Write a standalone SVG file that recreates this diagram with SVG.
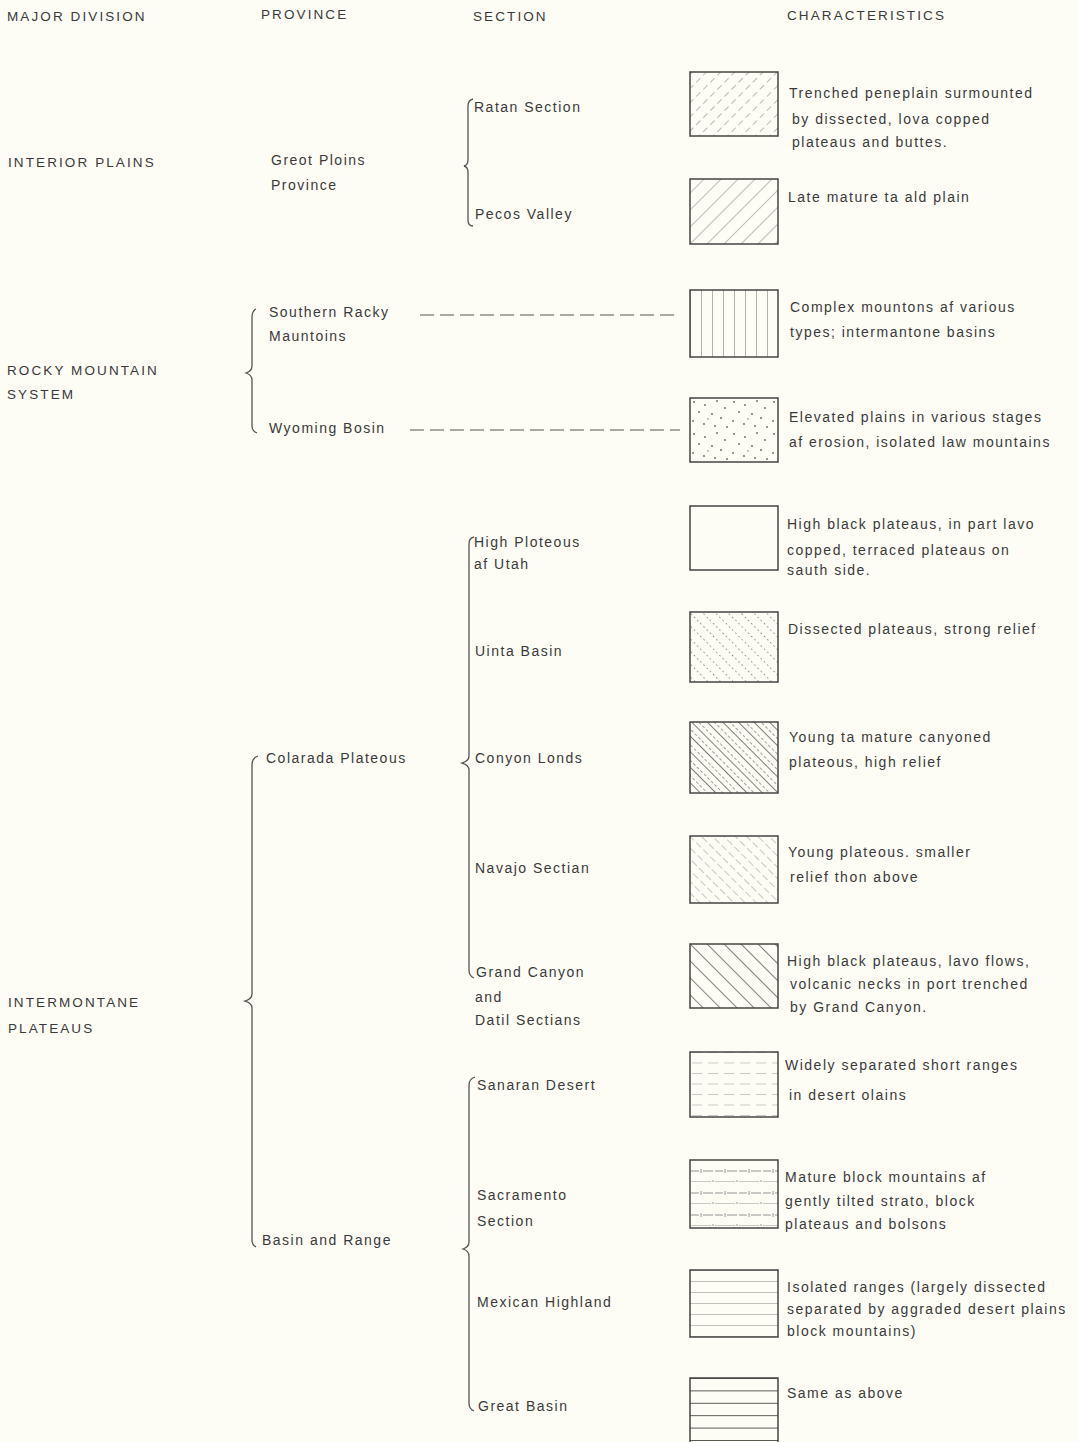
<svg xmlns="http://www.w3.org/2000/svg" width="1078" height="1442" viewBox="0 0 1078 1442">
<style>
text{font-family:"Liberation Sans",Arial,sans-serif;font-size:14px;fill:#3a3a3a;letter-spacing:1.5px}
.h{font-size:13.5px;letter-spacing:2.1px}
.box{fill:none;stroke:#444;stroke-width:1.5}
.br{fill:none;stroke:#555;stroke-width:1.3}
.dl{stroke:#555;stroke-width:1.2;stroke-dasharray:14 6;fill:none}
</style>
<defs>
<pattern id="p1" width="10" height="10" patternUnits="userSpaceOnUse" patternTransform="rotate(45)"><line x1="0" y1="0" x2="0" y2="10" stroke="#777" stroke-width="1" stroke-dasharray="6 4"/></pattern>
<pattern id="p2" width="12" height="12" patternUnits="userSpaceOnUse" patternTransform="rotate(45)"><line x1="0" y1="0" x2="0" y2="12" stroke="#777" stroke-width="0.9"/></pattern>
<pattern id="p3" width="11" height="10" patternUnits="userSpaceOnUse" x="690"><line x1="0" y1="0" x2="0" y2="10" stroke="#666" stroke-width="1"/></pattern>
<pattern id="p4" width="40" height="32" patternUnits="userSpaceOnUse" x="690" y="398"><g fill="#666"><circle cx="4" cy="4" r="0.9"/><circle cx="15" cy="7" r="0.9"/><circle cx="27" cy="3" r="0.9"/><circle cx="35" cy="10" r="0.9"/><circle cx="9" cy="14" r="0.9"/><circle cx="22" cy="16" r="0.9"/><circle cx="31" cy="20" r="0.9"/><circle cx="3" cy="23" r="0.9"/><circle cx="14" cy="26" r="0.9"/><circle cx="25" cy="28" r="0.9"/><circle cx="37" cy="29" r="0.9"/><circle cx="18" cy="21" r="0.7"/></g></pattern>
<pattern id="p6" width="9" height="9" patternUnits="userSpaceOnUse" patternTransform="rotate(-45)"><line x1="0" y1="0" x2="0" y2="9" stroke="#555" stroke-width="1.6" stroke-dasharray="1.3 3.2"/></pattern>
<pattern id="p7" width="11" height="10" patternUnits="userSpaceOnUse" patternTransform="rotate(-45)"><line x1="0" y1="0" x2="0" y2="10" stroke="#444" stroke-width="1.4"/><line x1="5.5" y1="0" x2="5.5" y2="10" stroke="#888" stroke-width="0.8" stroke-dasharray="3 2"/></pattern>
<pattern id="p8" width="8" height="10" patternUnits="userSpaceOnUse" patternTransform="rotate(-45)"><line x1="0" y1="0" x2="0" y2="10" stroke="#888" stroke-width="0.9" stroke-dasharray="5 3"/></pattern>
<pattern id="p9" width="12" height="10" patternUnits="userSpaceOnUse" patternTransform="rotate(-45)"><line x1="0" y1="0" x2="0" y2="10" stroke="#444" stroke-width="1.3"/></pattern>
<pattern id="p10" width="16" height="10.5" patternUnits="userSpaceOnUse" x="690" y="1052"><line x1="2" y1="0" x2="12" y2="0" stroke="#888" stroke-width="0.9"/></pattern>
<pattern id="p11" width="24" height="22" patternUnits="userSpaceOnUse" x="690" y="1160"><g stroke="#777" stroke-width="0.8"><line x1="1" y1="11" x2="9" y2="11"/><line x1="13" y1="11" x2="23" y2="11"/><line x1="11" y1="9" x2="11" y2="13"/><line x1="1" y1="22" x2="21" y2="22"/><line x1="23" y1="20" x2="23" y2="24"/></g></pattern>
<pattern id="p12" width="10" height="11" patternUnits="userSpaceOnUse" x="690" y="1270"><line x1="0" y1="0" x2="10" y2="0" stroke="#777" stroke-width="0.9"/></pattern>
<pattern id="p13" width="10" height="12.4" patternUnits="userSpaceOnUse" x="690" y="1378"><line x1="0" y1="0" x2="10" y2="0" stroke="#333" stroke-width="1.6"/></pattern>
</defs>
<rect width="1078" height="1442" fill="#fdfdf6"/>
<g id="headers">
<text class="h" x="7" y="21">MAJOR DIVISION</text>
<text class="h" x="261" y="19">PROVINCE</text>
<text class="h" x="473" y="21">SECTION</text>
<text class="h" x="787" y="20">CHARACTERISTICS</text>
</g>
<g id="divisions">
<text class="h" x="8" y="167">INTERIOR PLAINS</text>
<text class="h" x="7" y="375">ROCKY MOUNTAIN</text>
<text class="h" x="7" y="399">SYSTEM</text>
<text class="h" x="8" y="1007">INTERMONTANE</text>
<text class="h" x="8" y="1033">PLATEAUS</text>
</g>
<g id="provinces">
<text x="271" y="165">Greot Ploins</text>
<text x="271" y="190">Province</text>
<text x="269" y="317">Southern Racky</text>
<text x="269" y="341">Mauntoins</text>
<text x="269" y="433">Wyoming Bosin</text>
<text x="266" y="763">Colarada Plateous</text>
<text x="262" y="1245">Basin and Range</text>
</g>
<g id="sections">
<text x="474" y="112">Ratan Section</text>
<text x="475" y="219">Pecos Valley</text>
<text x="474" y="547">High Ploteous</text>
<text x="474" y="569">af Utah</text>
<text x="475" y="656">Uinta Basin</text>
<text x="475" y="763">Conyon Londs</text>
<text x="475" y="873">Navajo Sectian</text>
<text x="476" y="977">Grand Canyon</text>
<text x="475" y="1002">and</text>
<text x="475" y="1025">Datil Sectians</text>
<text x="477" y="1090">Sanaran Desert</text>
<text x="477" y="1200">Sacramento</text>
<text x="477" y="1226">Section</text>
<text x="477" y="1307">Mexican Highland</text>
<text x="478" y="1411">Great Basin</text>
</g>
<g id="connectors">
<path class="br" d="M473,99 Q468,100 468,106 L468,160 Q468,165 464,166 Q468,167 468,172 L468,220 Q468,226 473,226"/>
<path class="br" d="M256,309 Q252,311 252,317 L252,366 Q252,371 246,373 Q252,375 252,380 L252,426 Q252,431 257,433"/>
<path class="br" d="M474,537 Q469,538 469,544 L469,756 Q469,761 462,763 Q469,765 469,770 L469,970 Q469,976 474,978"/>
<path class="br" d="M258,756 Q252,758 252,765 L252,994 Q252,999 245,1001 Q252,1003 252,1008 L252,1240 Q252,1245 256,1247"/>
<path class="br" d="M475,1077 Q469,1079 469,1085 L469,1242 Q469,1247 463,1249 Q469,1251 469,1256 L469,1403 Q469,1409 474,1411"/>
<line class="dl" x1="420" y1="315" x2="680" y2="315"/>
<line class="dl" x1="410" y1="430" x2="680" y2="430"/>
</g>
<g id="c1"><rect x="690" y="72" width="88" height="64" fill="url(#p1)"/><rect class="box" x="690" y="72" width="88" height="64"/>
<text x="789" y="98">Trenched peneplain surmounted</text><text x="792" y="124">by dissected, lova copped</text><text x="792" y="147">plateaus and buttes.</text></g>
<g id="c2"><rect x="690" y="179" width="88" height="65" fill="url(#p2)"/><rect class="box" x="690" y="179" width="88" height="65"/>
<text x="788" y="202">Late mature ta ald plain</text></g>
<g id="c3"><rect x="690" y="290" width="88" height="67" fill="url(#p3)"/><rect class="box" x="690" y="290" width="88" height="67"/>
<text x="790" y="312">Complex mountons af various</text><text x="790" y="337">types; intermantone basins</text></g>
<g id="c4"><rect x="690" y="398" width="88" height="64" fill="url(#p4)"/><rect class="box" x="690" y="398" width="88" height="64"/>
<text x="789" y="422">Elevated plains in various stages</text><text x="789" y="447">af erosion, isolated law mountains</text></g>
<g id="c5"><rect class="box" x="690" y="506" width="88" height="64"/>
<text x="787" y="529">High black plateaus, in part lavo</text><text x="787" y="555">copped, terraced plateaus on</text><text x="787" y="575">sauth side.</text></g>
<g id="c6"><rect x="690" y="612" width="88" height="70" fill="url(#p6)"/><rect class="box" x="690" y="612" width="88" height="70"/>
<text x="788" y="634">Dissected plateaus, strong relief</text></g>
<g id="c7"><rect x="690" y="722" width="88" height="71" fill="url(#p7)"/><rect class="box" x="690" y="722" width="88" height="71"/>
<text x="789" y="742">Young ta mature canyoned</text><text x="789" y="767">plateous, high relief</text></g>
<g id="c8"><rect x="690" y="836" width="88" height="67" fill="url(#p8)"/><rect class="box" x="690" y="836" width="88" height="67"/>
<text x="788" y="857">Young plateous. smaller</text><text x="790" y="882">relief thon above</text></g>
<g id="c9"><rect x="690" y="944" width="88" height="64" fill="url(#p9)"/><rect class="box" x="690" y="944" width="88" height="64"/>
<text x="787" y="966">High black plateaus, lavo flows,</text><text x="790" y="989">volcanic necks in port trenched</text><text x="790" y="1012">by Grand Canyon.</text></g>
<g id="c10"><rect x="690" y="1052" width="88" height="65" fill="url(#p10)"/><rect class="box" x="690" y="1052" width="88" height="65"/>
<text x="785" y="1070">Widely separated short ranges</text><text x="789" y="1100">in desert olains</text></g>
<g id="c11"><rect x="690" y="1160" width="88" height="68" fill="url(#p11)"/><rect class="box" x="690" y="1160" width="88" height="68"/>
<text x="785" y="1182">Mature block mountains af</text><text x="785" y="1206">gently tilted strato, block</text><text x="785" y="1229">plateaus and bolsons</text></g>
<g id="c12"><rect x="690" y="1270" width="88" height="67" fill="url(#p12)"/><rect class="box" x="690" y="1270" width="88" height="67"/>
<text x="787" y="1292">Isolated ranges (largely dissected</text><text x="787" y="1314">separated by aggraded desert plains</text><text x="787" y="1336">block mountains)</text></g>
<g id="c13"><rect x="690" y="1378" width="88" height="70" fill="url(#p13)"/><rect class="box" x="690" y="1378" width="88" height="70"/>
<text x="787" y="1398">Same as above</text></g>
</svg>
